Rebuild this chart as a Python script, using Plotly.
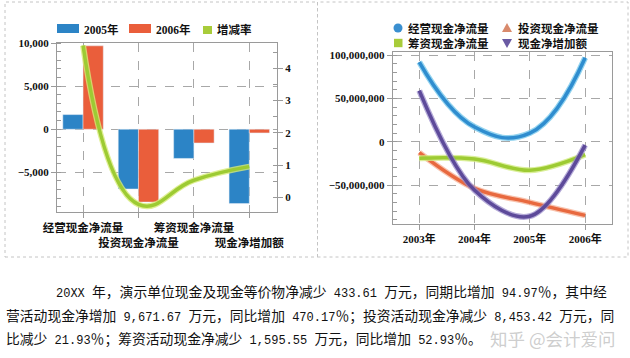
import re
import plotly.graph_objects as go

# ---------------- data ----------------
categories = ["经营现金净流量", "投资现金净流量", "筹资现金净流量", "现金净增加额"]
cat_ticktext = ["经营现金净流量", "<br>投资现金净流量", "筹资现金净流量", "<br>现金净增加额"]
values_2005 = [1696, -6933, -3390, -8620]
values_2006 = [9671.67, -8453.42, -1595.55, -433.61]
change_rate = [4.7017, -0.2193, 0.5293, 0.9497]

years = ["2003年", "2004年", "2005年", "2006年"]
operating = [92e6, 17e6, 10e6, 97e6]
investing = [-12.7e6, -54e6, -70e6, -85e6]
financing = [-19e6, -20e6, -33e6, -15e6]
net_change = [59e6, -56e6, -86e6, -4e6]

left_legend = ["2005年", "2006年", "增减率"]
right_legend = ["经营现金净流量", "投资现金净流量", "筹资现金净流量", "现金净增加额"]

paragraph = [
    "20XX 年，演示单位现金及现金等价物净减少 433.61 万元，同期比增加 94.97％，其中经",
    "营活动现金净增加 9,671.67 万元，同比增加 470.17％；投资活动现金净减少 8,453.42 万元，同",
    "比减少 21.93％；筹资活动现金净减少 1,595.55 万元，同比增加 52.93％。",
]
watermark = "知乎 @会计爱问"

W, H = 630, 358
px = lambda v: v / W
py = lambda v: 1 - v / H

BLUE = "#2c84c6"
RED = "#ea5e3b"
GREEN = "#9dcb33"
PURPLE = "#5d4a9a"
GRID = "#a8a8a8"
AX = "#9a9a9a"
NUMFONT = dict(family="Liberation Serif, Noto Sans CJK SC", size=11, color="#111", weight="bold")
CJKFONT = dict(family="Noto Sans CJK SC", size=11.5, color="#111", weight="bold")

fig = go.Figure()

# ---------- left chart ----------
fig.add_trace(go.Bar(x=categories, y=values_2005, name=left_legend[0], marker_color=BLUE,
                     xaxis="x", yaxis="y", showlegend=False))
fig.add_trace(go.Bar(x=categories, y=values_2006, name=left_legend[1], marker_color=RED,
                     xaxis="x", yaxis="y", showlegend=False))
fig.add_trace(go.Scatter(x=categories, y=change_rate, mode="lines", showlegend=False,
                         line=dict(color="rgba(215,235,120,0.8)", width=6, shape="spline", smoothing=1.3),
                         xaxis="x", yaxis="y2", hoverinfo="skip"))
fig.add_trace(go.Scatter(x=categories, y=change_rate, mode="lines", name=left_legend[2], showlegend=False,
                         line=dict(color=GREEN, width=3.5, shape="spline", smoothing=1.3),
                         xaxis="x", yaxis="y2"))

# ---------- right chart ----------
series = [
    (right_legend[0], operating, "#2f8dcf", "rgba(120,200,235,0.8)", 1.25),
    (right_legend[1], investing, "#e8693f", "rgba(245,170,140,0.7)", 1.0),
    (right_legend[2], financing, "#9dcb33", "rgba(210,235,130,0.8)", 1.0),
    (right_legend[3], net_change, PURPLE, "rgba(150,135,200,0.7)", 1.0),
]
for name, vals, col, glow, sm in series:
    fig.add_trace(go.Scatter(x=years, y=vals, mode="lines", showlegend=False, hoverinfo="skip",
                             line=dict(color=glow, width=6, shape="spline", smoothing=sm),
                             xaxis="x2", yaxis="y3"))
    fig.add_trace(go.Scatter(x=years, y=vals, mode="lines", name=name, showlegend=False,
                             line=dict(color=col, width=3.5, shape="spline", smoothing=sm),
                             xaxis="x2", yaxis="y3"))

axis_common = dict(showline=True, linecolor=AX, linewidth=1, mirror=True,
                   gridcolor=GRID, griddash="dash", gridwidth=1, automargin=False,
                   ticks="outside", ticklen=5, tickcolor=AX, zeroline=False)

fig.update_layout(
    width=W, height=H, autosize=False,
    margin=dict(l=0, r=0, t=0, b=0),
    paper_bgcolor="white", plot_bgcolor="white",
    barmode="group", bargap=0.27, bargroupgap=0,
    showlegend=False,
    xaxis=dict(domain=[px(57), px(277)], anchor="y", type="category",
               range=[-0.47, 3.5], tickvals=categories, ticktext=cat_ticktext, tickangle=0,
               tickfont=CJKFONT, showgrid=True, **axis_common),
    yaxis=dict(domain=[py(212), py(43)], anchor="x", range=[-9600, 10000],
               dtick=5000, tickformat=",", tickfont=NUMFONT, showgrid=True,
               minor=dict(ticks="inside", ticklen=4, dtick=1000, tickcolor=AX, showgrid=False),
               **axis_common),
    yaxis2=dict(overlaying="y", side="right", anchor="x", range=[-0.455, 4.78],
                tickvals=[0, 1, 2, 3, 4], tickfont=NUMFONT, showgrid=False, automargin=False,
                showline=True, linecolor=AX, ticks="outside", ticklen=5, tickcolor=AX,
                zeroline=False,
                minor=dict(ticks="inside", ticklen=4, dtick=0.5, tickcolor=AX, showgrid=False)),
    xaxis2=dict(domain=[px(392.7), px(611.7)], anchor="y3", type="category", tickangle=0,
                range=[-0.48, 3.48], tickfont=NUMFONT, showgrid=True, **axis_common),
    yaxis3=dict(domain=[py(224), py(51.7)], anchor="x2", range=[-95e6, 103.9e6],
                dtick=50e6, tickformat=",", tickfont=NUMFONT, showgrid=True,
                minor=dict(ticks="inside", ticklen=4, dtick=10e6, tickcolor=AX, showgrid=False),
                **axis_common),
)

# ---------- manual legends ----------
def rect(x0, x1, y0, y1, color):
    fig.add_shape(type="rect", xref="paper", yref="paper", x0=px(x0), x1=px(x1),
                  y0=py(y1), y1=py(y0), fillcolor=color, line=dict(width=0))

def label(text, x, y, font):
    fig.add_annotation(text=text, xref="paper", yref="paper", x=px(x), y=py(y),
                       xanchor="left", yanchor="middle", showarrow=False, font=font,
                       borderpad=0, align="left")

LEGFONT = dict(family="Liberation Serif, Noto Sans CJK SC", size=11.5, color="#111", weight="bold")
rect(57, 79, 24, 33, BLUE); label(left_legend[0], 83, 29, LEGFONT)
rect(129, 151, 24, 33, RED); label(left_legend[1], 155, 29, LEGFONT)
rect(203, 212, 26, 34, "#a8cc3a"); label(left_legend[2], 216, 29, LEGFONT)

RLFONT = dict(family="Noto Sans CJK SC", size=11.5, color="#111", weight="bold")
R1, R2 = 28, 43
fig.add_shape(type="circle", xref="paper", yref="paper", x0=px(393.5), x1=px(402.5),
              y0=py(R1 + 4.5), y1=py(R1 - 4.5), fillcolor="#3a8fd0", line=dict(width=0))
def tri(cx, cy, up, color):
    s = 5
    if up:
        pts = [(cx - s, cy + 4), (cx + s, cy + 4), (cx, cy - 5)]
    else:
        pts = [(cx - s, cy - 4), (cx + s, cy - 4), (cx, cy + 5)]
    path = "M " + " L ".join(f"{px(a)},{py(b)}" for a, b in pts) + " Z"
    fig.add_shape(type="path", xref="paper", yref="paper", path=path,
                  fillcolor=color, line=dict(width=0))
tri(507, R1, True, "#d98a6c")
rect(394, 402.5, R2 - 4.2, R2 + 4.2, "#a8cc3a")
tri(507, R2, False, "#6a5aa3")
label(right_legend[0] + "<br>" + right_legend[2], 407, (R1 + R2) / 2, RLFONT)
label(right_legend[1] + "<br>" + right_legend[3], 517, (R1 + R2) / 2, RLFONT)

# panel borders
for x0, x1 in [(5, 317.5), (317.5, 628)]:
    fig.add_shape(type="rect", xref="paper", yref="paper",
                  x0=px(x0), x1=px(x1), y0=py(257), y1=py(2),
                  line=dict(color="#c4c4c4", width=1, dash="dot"), fillcolor="rgba(0,0,0,0)")

# paragraph text: CJK in Noto Sans CJK, ASCII runs in a half-width monospace
def mixed(txt):
    return re.sub(r"([\x20-\x7e]+)",
                  lambda m: '<span style="font-family:Liberation Mono;font-size:12px">'
                  + m.group(1).replace(" ", "\u00a0") + "</span>", txt)

para_font = dict(family="Noto Sans CJK SC", size=13.8, color="#111")
for txt, x0, y0 in zip(paragraph, [55, 5, 5], [291, 315, 338]):
    fig.add_annotation(text=mixed(txt), xref="paper", yref="paper", x=px(x0), y=py(y0),
                       xanchor="left", yanchor="middle", showarrow=False, font=para_font,
                       borderpad=0)
fig.add_annotation(text=watermark, xref="paper", yref="paper", x=px(616), y=py(338),
                   xanchor="right", yanchor="middle", showarrow=False, borderpad=0,
                   font=dict(family="Noto Sans CJK SC", size=17.5, color="rgba(200,200,200,0.9)"))

fig.write_html("out.html", config={"displayModeBar": False},
               post_script="document.body.style.margin='0';")
